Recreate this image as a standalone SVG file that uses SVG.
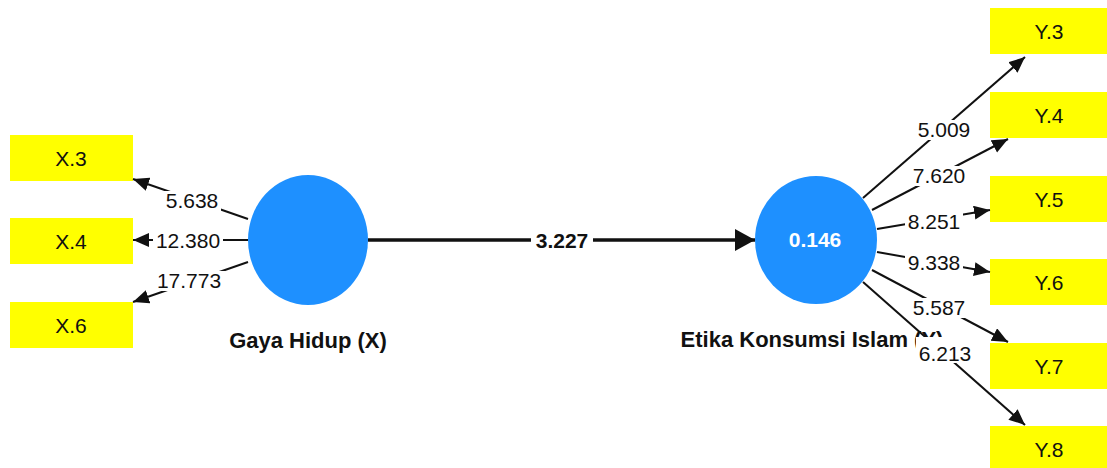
<svg xmlns="http://www.w3.org/2000/svg" width="1107" height="468" viewBox="0 0 1107 468">
  <style>
    text { font-family: "Liberation Sans", Arial, sans-serif; fill: #111; }
    .ind { fill: #ffff00; }
    .ind-t { font-size: 21px; text-anchor: middle; }
    .lv { fill: #1e90ff; }
    .lv-name { font-size: 22px; font-weight: bold; text-anchor: middle; }
    .lv-r2 { font-size: 21px; font-weight: bold; text-anchor: middle; fill: #ffffff; }
    .ln { stroke: #111; stroke-width: 2; fill: none; marker-end: url(#head); }
    .path { stroke: #111; stroke-width: 3.5; fill: none; marker-end: url(#headBig); }
    .lbl-bg { fill: #ffffff; }
    .lbl { font-size: 21px; text-anchor: middle; }
    .lbl-b { font-size: 21px; font-weight: bold; text-anchor: middle; }
  </style>
  <defs>
    <marker id="head" markerUnits="userSpaceOnUse" markerWidth="17" markerHeight="15" refX="16" refY="7" orient="auto">
      <path d="M0,0 L16,7 L0,14 z" fill="#111"/>
    </marker>
    <marker id="headBig" markerUnits="userSpaceOnUse" markerWidth="21" markerHeight="23" refX="20" refY="11" orient="auto">
      <path d="M0,0 L20,11 L0,22 z" fill="#111"/>
    </marker>
  </defs>

  <rect width="1107" height="468" fill="#ffffff"/>

  <!-- indicators of Gaya Hidup -->
  <g id="x3"><rect class="ind" x="10" y="135" width="123" height="46"/><text class="ind-t" x="71" y="166">X.3</text></g>
  <g id="x4"><rect class="ind" x="10" y="218" width="123" height="46"/><text class="ind-t" x="71" y="249">X.4</text></g>
  <g id="x6"><rect class="ind" x="10" y="302" width="123" height="46"/><text class="ind-t" x="71" y="333">X.6</text></g>

  <!-- indicators of Etika Konsumsi Islam -->
  <g id="y3"><rect class="ind" x="990" y="8" width="123" height="46"/><text class="ind-t" x="1049" y="39">Y.3</text></g>
  <g id="y4"><rect class="ind" x="990" y="92" width="123" height="46"/><text class="ind-t" x="1049" y="123">Y.4</text></g>
  <g id="y5"><rect class="ind" x="990" y="176" width="123" height="46"/><text class="ind-t" x="1049" y="207">Y.5</text></g>
  <g id="y6"><rect class="ind" x="990" y="259" width="123" height="46"/><text class="ind-t" x="1049" y="290">Y.6</text></g>
  <g id="y7"><rect class="ind" x="990" y="343" width="123" height="46"/><text class="ind-t" x="1049" y="374">Y.7</text></g>
  <g id="y8"><rect class="ind" x="990" y="426" width="123" height="46"/><text class="ind-t" x="1049" y="457">Y.8</text></g>

  <!-- latent variables -->
  <g id="gaya-hidup">
    <ellipse class="lv" cx="308" cy="240" rx="60" ry="65"/>
    <text class="lv-name" x="308" y="348">Gaya Hidup (X)</text>
  </g>
  <g id="etika-konsumsi">
    <ellipse class="lv" cx="816" cy="240" rx="61" ry="64"/>
    <text class="lv-r2" x="815" y="247">0.146</text>
    <text class="lv-name" x="812" y="347">Etika Konsumsi Islam (Y)</text>
  </g>

  <!-- connectors with their values -->
  <g id="connectors">
    <line class="ln" x1="248" y1="219" x2="133" y2="179"/>
    <line class="ln" x1="248" y1="240" x2="133" y2="240"/>
    <line class="ln" x1="248" y1="262" x2="133" y2="302"/>
    <line class="path" x1="368" y1="240" x2="755" y2="240"/>
    <line class="ln" x1="863" y1="198" x2="1025" y2="57"/>
    <line class="ln" x1="872" y1="210" x2="1008" y2="139"/>
    <line class="ln" x1="877" y1="229" x2="990" y2="210"/>
    <line class="ln" x1="877" y1="252" x2="990" y2="272"/>
    <line class="ln" x1="872" y1="270" x2="1008" y2="342"/>
    <line class="ln" x1="863" y1="282" x2="1025" y2="425"/>

    <rect class="lbl-bg" x="163" y="191" width="58" height="20"/><text class="lbl" x="192" y="208">5.638</text>
    <rect class="lbl-bg" x="153" y="231" width="70" height="20"/><text class="lbl" x="188" y="248">12.380</text>
    <rect class="lbl-bg" x="153" y="271" width="72" height="20"/><text class="lbl" x="189" y="288">17.773</text>
    <rect class="lbl-bg" x="531" y="231" width="62" height="20"/><text class="lbl-b" x="562" y="248">3.227</text>
    <rect class="lbl-bg" x="915" y="120" width="58" height="20"/><text class="lbl" x="944" y="137">5.009</text>
    <rect class="lbl-bg" x="910" y="166" width="58" height="20"/><text class="lbl" x="939" y="183">7.620</text>
    <rect class="lbl-bg" x="905" y="212" width="58" height="20"/><text class="lbl" x="934" y="229">8.251</text>
    <rect class="lbl-bg" x="905" y="253" width="58" height="20"/><text class="lbl" x="934" y="270">9.338</text>
    <rect class="lbl-bg" x="910" y="298" width="58" height="20"/><text class="lbl" x="939" y="315">5.587</text>
    <rect class="lbl-bg" x="916" y="337" width="58" height="26"/><text class="lbl" x="945" y="361">6.213</text>
  </g>
</svg>
